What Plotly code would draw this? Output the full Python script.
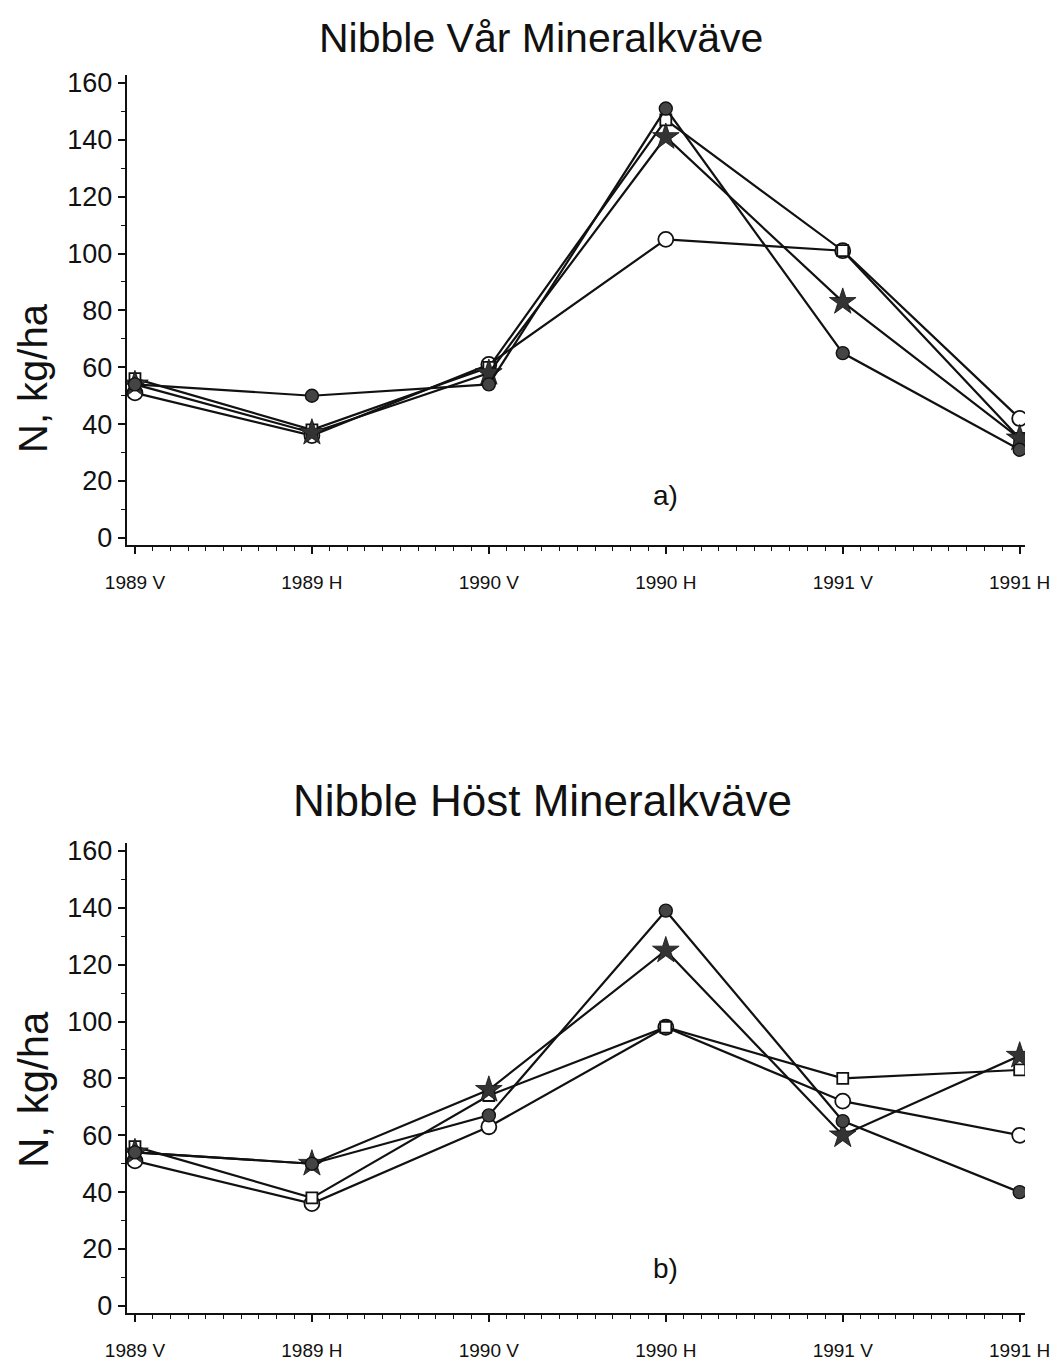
import plotly.graph_objects as go

# Sampling occasions (V = vår / spring, H = höst / autumn)
occasions = ["1989 V", "1989 H", "1990 V", "1990 H", "1991 V", "1991 H"]
xpos = list(range(len(occasions)))

# Mineral nitrogen, kg N/ha — spring-sown crop (panel a)
var_filled = [54, 50, 54, 151, 65, 31]
var_open = [51, 36, 61, 105, 101, 42]
var_square = [56, 38, 60, 147, 101, 35]
var_star = [54, 37, 58, 141, 83, 35]

# Mineral nitrogen, kg N/ha — autumn-sown crop (panel b)
host_filled = [54, 50, 67, 139, 65, 40]
host_open = [51, 36, 63, 98, 72, 60]
host_square = [56, 38, 74, 98, 80, 83]
host_star = [54, 50, 76, 125, 60, 88]

y_ticks = [0, 20, 40, 60, 80, 100, 120, 140, 160]

W, H = 1059, 1366
FONT = "Liberation Sans, Arial, Helvetica, sans-serif"
INK = "#111111"

def px_x(p):
    return p / W

def px_y(p):
    return 1 - p / H

styles = {
    "filled": dict(symbol="circle", size=13, color="#444444", line=dict(color=INK, width=1.4)),
    "open": dict(symbol="circle", size=15, color="white", line=dict(color=INK, width=1.8)),
    "square": dict(symbol="square", size=11, color="white", line=dict(color=INK, width=1.8)),
    "star": dict(symbol="star", size=20, color="#333333", line=dict(color=INK, width=0.8)),
}

fig = go.Figure()

panels = [
    ("x", "y", {"open": var_open, "square": var_square, "star": var_star, "filled": var_filled}),
    ("x2", "y2", {"open": host_open, "square": host_square, "star": host_star, "filled": host_filled}),
]
for xa, ya, series in panels:
    for key, vals in series.items():
        fig.add_trace(go.Scatter(
            x=xpos, y=vals, mode="lines+markers", name=key,
            line=dict(color=INK, width=2.2),
            marker=styles[key],
            xaxis=xa, yaxis=ya, showlegend=False,
        ))

x_dom = [px_x(127), px_x(1025)]
common_x = dict(
    range=[-0.045, 5.03], domain=x_dom, tickmode="array", tickvals=xpos,
    ticktext=occasions, ticks="outside", ticklen=7, tickwidth=1.8, tickcolor=INK,
    showline=True, linecolor=INK, linewidth=2.4, showgrid=False, zeroline=False,
    tickfont=dict(family=FONT, size=19, color=INK), ticklabelstandoff=12,
    minor=dict(dtick=0.1, tick0=0, ticks="outside", ticklen=4, tickwidth=1.2, tickcolor=INK),
    automargin=False, fixedrange=True,
)
common_y = dict(
    range=[-2.5, 162.8], tickmode="array", tickvals=y_ticks,
    ticks="outside", ticklen=7, tickwidth=1.8, tickcolor=INK,
    showline=True, linecolor=INK, linewidth=2.4, showgrid=False, zeroline=False,
    tickfont=dict(family=FONT, size=27, color=INK),
    minor=dict(dtick=10, tick0=0, ticks="outside", ticklen=4, tickwidth=1.2, tickcolor=INK),
    automargin=False, fixedrange=True,
)

fig.update_layout(
    width=W, height=H,
    margin=dict(l=0, r=0, t=0, b=0),
    paper_bgcolor="white", plot_bgcolor="white",
    xaxis=dict(common_x, anchor="y"),
    yaxis=dict(common_y, anchor="x", domain=[px_y(545), px_y(75)]),
    xaxis2=dict(common_x, anchor="y2"),
    yaxis2=dict(common_y, anchor="x2", domain=[px_y(1313), px_y(843)]),
)

annotations = [
    dict(text="Nibble Vår Mineralkväve", x=px_x(541), y=px_y(38), xref="paper", yref="paper",
         showarrow=False, font=dict(family=FONT, size=41, color=INK), xanchor="center", yanchor="middle"),
    dict(text="Nibble Höst Mineralkväve", x=px_x(542), y=px_y(800), xref="paper", yref="paper",
         showarrow=False, font=dict(family=FONT, size=44, color=INK), xanchor="center", yanchor="middle"),
    dict(text="N, kg/ha", x=px_x(33), y=px_y(378), xref="paper", yref="paper", textangle=-90,
         showarrow=False, font=dict(family=FONT, size=40, color=INK), xanchor="center", yanchor="middle"),
    dict(text="N, kg/ha", x=px_x(33), y=px_y(1090), xref="paper", yref="paper", textangle=-90,
         showarrow=False, font=dict(family=FONT, size=42, color=INK), xanchor="center", yanchor="middle"),
    dict(text="a)", x=3, y=15, xref="x", yref="y", showarrow=False,
         font=dict(family=FONT, size=28, color=INK)),
    dict(text="b)", x=3, y=13, xref="x2", yref="y2", showarrow=False,
         font=dict(family=FONT, size=28, color=INK)),
]
fig.update_layout(annotations=annotations)

fig.write_html("out.html")
